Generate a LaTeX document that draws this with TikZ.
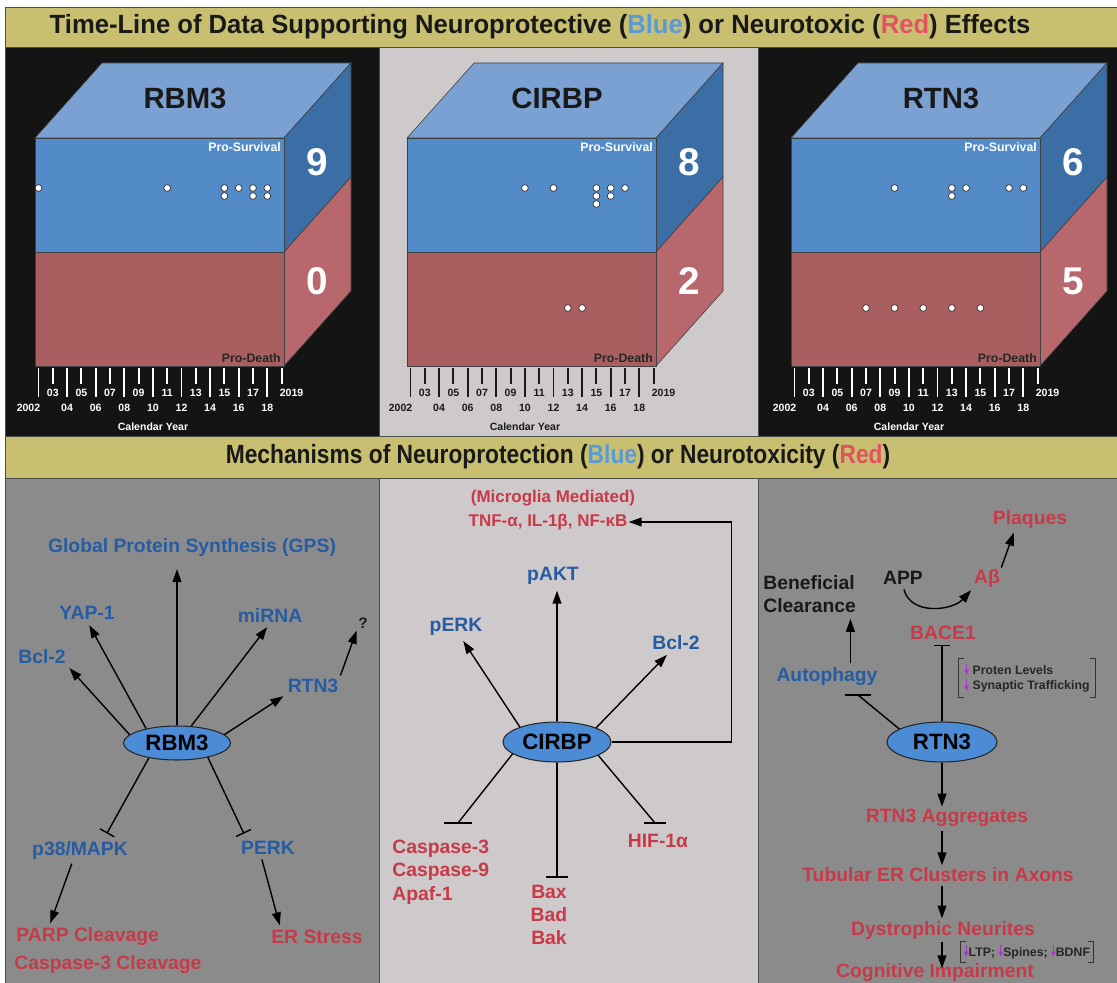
\documentclass[tikz,border=0pt]{standalone}
\usepackage{graphicx}
\usepackage{fontspec}
\setmainfont{Liberation Sans}
\newfontfamily\arrowfont{DejaVu Sans}
\usetikzlibrary{arrows.meta,shapes.geometric}

\definecolor{khaki}{RGB}{200,191,112}
\definecolor{panelblack}{RGB}{20,20,20}
\definecolor{panellight}{RGB}{206,201,202}
\definecolor{panelgray}{RGB}{139,139,139}
\definecolor{topblue}{RGB}{122,161,210}
\definecolor{frontblue}{RGB}{82,139,199}
\definecolor{sideblue}{RGB}{58,110,164}
\definecolor{frontred}{RGB}{169,95,96}
\definecolor{sidered}{RGB}{184,104,108}
\definecolor{protblue}{RGB}{38,92,163}
\definecolor{toxred}{RGB}{200,58,72}
\definecolor{nodeblue}{RGB}{76,140,214}
\definecolor{hiblue}{RGB}{90,155,215}
\definecolor{hired}{RGB}{226,82,96}
\definecolor{downpurple}{RGB}{170,50,205}
\definecolor{axisdark}{RGB}{25,25,25}

% small purple down arrow: thin shaft over a triangle head
\newcommand{\downmark}{{\color{downpurple}\ooalign{\hfil\rule[2.5pt]{0.9pt}{6.5pt}\hfil\cr
    \hfil\raisebox{-0.5pt}{\scalebox{0.5}[0.55]{\arrowfont ▼}}\hfil\cr}}}

\begin{document}
\begin{tikzpicture}[x=0.03cm,y=-0.03cm,
        edge/.style={draw=black!75,line width=0.5pt},
        dotc/.style={fill=white,draw=black!80,line width=0.6pt},
        tick/.style={line width=1.6pt},
        yearlab/.style={font=\fontsize{9}{10}\selectfont\bfseries,inner sep=0pt},
        cubettl/.style={text=black!90,font=\fontsize{25}{28}\selectfont\bfseries},
        cubenum/.style={text=white,font=\fontsize{33}{36}\selectfont\bfseries},
        surv/.style={text=white,font=\fontsize{10.5}{12}\selectfont\bfseries,inner sep=0pt},
        death/.style={text=black!85,font=\fontsize{10.5}{12}\selectfont\bfseries,inner sep=0pt},
        banner/.style={text=black!90,font=\fontsize{22.5}{24}\selectfont\bfseries,inner sep=0pt},
        blu/.style={text=protblue,font=\fontsize{16.5}{20}\selectfont\bfseries,inner sep=1pt},
        redl/.style={text=toxred,font=\fontsize{16.5}{20}\selectfont\bfseries,inner sep=1pt},
        blk/.style={text=black!90,font=\fontsize{16.5}{20}\selectfont\bfseries,inner sep=1pt},
        note/.style={text=black!85,font=\fontsize{10.5}{13}\selectfont\bfseries,align=left},
        hub/.style={ellipse,draw=black!85,line width=0.9pt,fill=nodeblue,
            font=\fontsize{19}{20}\selectfont\bfseries,inner sep=0pt},
        act/.style={line width=1.2pt,-{Triangle[length=11pt,width=7.5pt]}},
        inh/.style={line width=1.2pt,-{Bar[width=14pt,line width=1.2pt]}},
        ln/.style={line width=1.2pt},
        brk/.style={line width=0.9pt,black!80}]
\useasboundingbox[fill=white] (0,0) rectangle (1117,983);

% panels
\fill[panelblack] (5,47) rectangle (379,436);
\fill[panellight] (379,47) rectangle (758,436);
\fill[panelblack] (758,47) rectangle (1117,436);
\fill[panelgray] (5,478) rectangle (379,983);
\fill[panellight] (379,478) rectangle (758,983);
\fill[panelgray] (758,478) rectangle (1117,983);
\draw[black!70,line width=0.8pt] (5,478) rectangle (379,990) (379,478) rectangle (758,990) (758,478) rectangle (1125,990);
\draw[black!70,line width=0.8pt] (379,47) -- (379,436) (758,47) -- (758,436) (5,47) -- (5,436);
\filldraw[fill=khaki,draw=black!70,line width=0.8pt] (5,7) rectangle (1125,47);
\filldraw[fill=khaki,draw=black!70,line width=0.8pt] (5,436) rectangle (1125,478);

\node[banner] (ttl) at (540,27) {\resizebox{837pt}{\height}{Time-Line of Data Supporting Neuroprotective ({\color{hiblue}Blue}) or Neurotoxic ({\color{hired}Red}) Effects}};
\node[banner] (mech) at (558,457) {\resizebox{567pt}{\height}{Mechanisms of Neuroprotection ({\color{hiblue}Blue}) or Neurotoxicity ({\color{hired}Red})}};

% cubes
\foreach \ox/\nm/\nup/\ndn/\axc in {35/RBM3/9/0/white,407/CIRBP/8/2/axisdark,791/RTN3/6/5/white}{
  \filldraw[edge,fill=topblue] (\ox,138) -- ++(67,-75) -- ++(249,0) -- ++(-67,75) -- cycle;
  \filldraw[edge,fill=sideblue] (\ox+249,138) -- ++(67,-75) -- ++(0,114) -- ++(-67,75) -- cycle;
  \filldraw[edge,fill=sidered] (\ox+249,252) -- ++(67,-75) -- ++(0,114) -- ++(-67,75) -- cycle;
  \filldraw[edge,fill=frontblue] (\ox,138) rectangle ++(249,114);
  \filldraw[edge,fill=frontred] (\ox,252) rectangle ++(249,114);
  \node[cubettl] (\nm-name) at (\ox+150,98) {\nm};
  \node[cubenum] (\nm-up) at (\ox+282,162) {\nup};
  \node[cubenum] (\nm-dn) at (\ox+282,281) {\ndn};
  \node[surv,anchor=east] (\nm-ps) at (\ox+246,147) {Pro-Survival};
  \node[death,anchor=east] (\nm-pd) at (\ox+246,358) {Pro-Death};
  \foreach \i/\lab/\dx in {0/2002/-10,1/03/0,2/04/0,3/05/0,4/06/0,5/07/0,6/08/0,7/09/0,8/10/0,
      9/11/0,10/12/0,11/13/0,12/14/0,13/15/0,14/16/0,15/17/0,16/18/0,17/2019/10}{
    \ifodd\i
      \draw[tick,\axc] (\ox+3.5+\i*14.3,368) -- ++(0,16);
      \node[yearlab,text=\axc] (\nm-y\i) at (\ox+3.5+\i*14.3+\dx,393) {\lab};
    \else
      \draw[tick,\axc] (\ox+3.5+\i*14.3,368) -- ++(0,29);
      \node[yearlab,text=\axc] (\nm-y\i) at (\ox+3.5+\i*14.3+\dx,408) {\lab};
    \fi
  }
  \node[yearlab,text=\axc] (\nm-cy) at (\ox+118,427) {Calendar Year};
}

% studies per year
\foreach \yr/\rw in {2002/0,2011/0,2015/0,2015/1,2016/0,2017/0,2017/1,2018/0,2018/1}
  \filldraw[dotc] ({35+3.5+(\yr-2002)*14.3},{188+8*\rw}) circle[radius=3.4];
\foreach \yr/\rw in {2010/0,2012/0,2015/0,2015/1,2015/2,2016/0,2016/1,2017/0}
  \filldraw[dotc] ({407+3.5+(\yr-2002)*14.3},{188+8*\rw}) circle[radius=3.4];
\foreach \yr in {2013,2014}
  \filldraw[dotc] ({407+3.5+(\yr-2002)*14.3},308) circle[radius=3.4];
\foreach \yr/\rw in {2009/0,2013/0,2013/1,2014/0,2017/0,2018/0}
  \filldraw[dotc] ({791+3.5+(\yr-2002)*14.3},{188+8*\rw}) circle[radius=3.4];
\foreach \yr in {2007,2009,2011,2013,2015}
  \filldraw[dotc] ({791+3.5+(\yr-2002)*14.3},308) circle[radius=3.4];

% RBM3 mechanisms
\node[hub,minimum width=3.21cm,minimum height=1.02cm] (rbm) at (177,743) {RBM3};
\node[blu] (gps) at (192,547) {Global Protein Synthesis (GPS)};
\node[blu] (yap) at (87,613) {YAP-1};
\node[blu] (bclL) at (42,657) {Bcl-2};
\node[blu] (mir) at (270,615) {miRNA};
\node[blu] (rtnL) at (313,686) {RTN3};
\node[blk,font=\fontsize{13}{14}\selectfont\bfseries] (q) at (363,623) {?};
\node[blu] (p38) at (80,850) {p38/MAPK};
\node[blu] (perk) at (268,848) {PERK};
\node[redl,anchor=west] (parp) at (15,937) {PARP Cleavage};
\node[redl,anchor=west] (casp3c) at (13,965) {Caspase-3 Cleavage};
\node[redl] (ers) at (317,937) {ER Stress};

\draw[act,shorten >=10pt] (rbm.north) -- (rbm.north |- gps.south);
\draw[act,shorten >=4pt] (rbm.155) -- (yap.south);
\draw[act,shorten >=3pt] (rbm.170) -- (bclL.south east);
\draw[act,shorten >=4pt] (rbm.50) -- (mir.south);
\draw[act,shorten >=3pt] (rbm.10) -- (rtnL.south west);
\draw[act,shorten <=2pt,shorten >=1pt] (rtnL.north east) -- (q.south west);
\draw[inh,shorten >=6pt] (rbm.208) -- ([xshift=20pt]p38.north);
\draw[inh,shorten >=6pt] (rbm.-25) -- ([xshift=-18pt]perk.north);
\draw[act,shorten <=3pt,shorten >=3pt] ([xshift=-6pt]p38.south) -- ([xshift=-33pt]parp.north);
\draw[act,shorten <=3pt,shorten >=3pt] ([xshift=-6pt]perk.south) -- ([xshift=-31pt]ers.north);

% CIRBP mechanisms
\node[hub,minimum width=3.24cm,minimum height=1.2cm] (cir) at (557,742) {CIRBP};
\node[redl,font=\fontsize{14.5}{16}\selectfont\bfseries] (micro) at (553,498) {(Microglia Mediated)};
\node[redl,font=\fontsize{14.5}{16}\selectfont\bfseries] (tnf) at (548,522) {TNF-α, IL-1β, NF-κB};
\node[blu] (pakt) at (553,576) {pAKT};
\node[blu] (perkM) at (456,627) {pERK};
\node[blu] (bclM) at (676,643) {Bcl-2};
\node[redl,align=left,anchor=west] (caspM) at (391,872) {Caspase-3\\Caspase-9\\Apaf-1};
\node[redl,align=center] (bax) at (549,915) {Bax\\Bad\\Bak};
\node[redl] (hif) at (658,841) {HIF-1α};
\coordinate (c3end) at (458,823);
\coordinate (hifend) at (655,823);

\draw[act,shorten >=4pt] (cir.north) -- (cir.north |- pakt.south);
\draw[act,shorten >=4pt] (cir.158) -- ([xshift=4pt]perkM.south);
\draw[act,shorten >=4pt] (cir.20) -- ([xshift=-5pt]bclM.south);
\draw[act] (cir.east) -- ++(120,0) |- (tnf.east);
\draw[ln] (cir.195) -- (c3end);
\draw[ln] ([xshift=-12pt]c3end) -- ([xshift=12pt]c3end);
\draw[ln] (cir.-18) -- (hifend);
\draw[ln] ([xshift=-9pt]hifend) -- ([xshift=9pt]hifend);
\draw[line width=1.2pt,-{Bar[width=19pt,line width=1.2pt]},shorten >=5pt] (cir.south) -- (cir.south |- bax.north);

% RTN3 mechanisms
\node[hub,minimum width=3.3cm,minimum height=1.2cm] (rtn) at (942,742) {RTN3};
\node[redl] (plaq) at (1030,519) {Plaques};
\node[redl] (abeta) at (987,578) {Aβ};
\node[blk] (app) at (903,578) {APP};
\node[blk,align=left,anchor=west] (benef) at (762,594) {Beneficial\\Clearance};
\node[redl] (bace) at (943,633) {BACE1};
\node[blu] (auto) at (827,677) {Autophagy};
\node[note,inner xsep=5pt,inner ysep=4pt] (lev) at (1027,678) {\downmark\ Proten Levels\\\downmark\ Synaptic Trafficking};
\node[redl] (agg) at (947,818) {RTN3 Aggregates};
\node[redl] (tub) at (938,875) {Tubular ER Clusters in Axons};
\node[redl] (dys) at (943,930) {Dystrophic Neurites};
\node[redl] (cog) at (935,973) {Cognitive Impairment};
\node[note,inner xsep=3pt,inner ysep=3pt] (ltp) at (1027,952) {\downmark LTP; \downmark Spines; \downmark BDNF};
\coordinate (autend) at (858,695);

\draw[inh,shorten >=3pt] (rtn.north) -- (rtn.north |- bace.south);
\draw[ln] (rtn.163) -- (autend);
\draw[ln] ([xshift=-11pt]autend) -- ([xshift=11pt]autend);
\draw[act,shorten <=3pt,shorten >=4pt] ([xshift=20pt]auto.north) -- ([xshift=20pt]auto.north |- benef.south);
\draw[act,shorten <=3pt,shorten >=2pt] (app.south) .. controls +(8,30) and +(-20,22) .. (abeta.south west);
\draw[act,shorten >=3pt] (abeta.north east) -- ([xshift=20pt]plaq.south west);
\draw[act,shorten >=1pt] (rtn.south) -- (rtn.south |- agg.north);
\draw[act,shorten <=2pt,shorten >=1pt] (agg.south -| rtn) -- (tub.north -| rtn);
\draw[act,shorten <=2pt,shorten >=1pt] (tub.south -| rtn) -- (dys.north -| rtn);
\draw[act,shorten <=1pt,shorten >=4pt] (dys.south -| rtn) -- (cog.center -| rtn);
\draw[brk] ([xshift=5pt]lev.north west) -| (lev.south west) -- ++(6,0);
\draw[brk] ([xshift=-5pt]lev.north east) -| (lev.south east) -- ++(-6,0);
\draw[brk] ([xshift=5pt]ltp.north west) -| (ltp.south west) -- ++(6,0);
\draw[brk] ([xshift=-5pt]ltp.north east) -| (ltp.south east) -- ++(-6,0);
\end{tikzpicture}
\end{document}
